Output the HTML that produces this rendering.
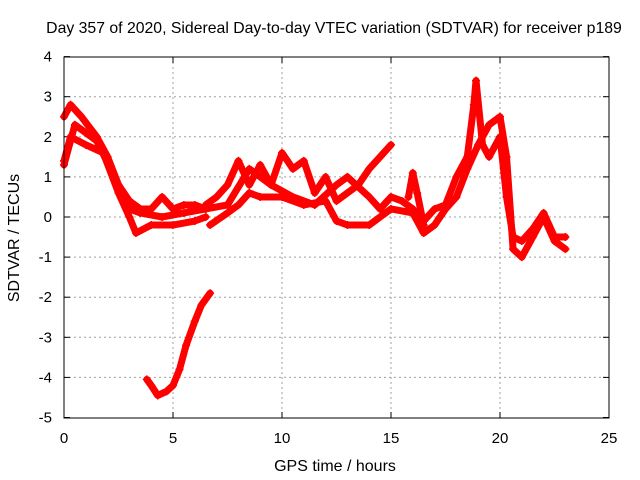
<!DOCTYPE html>
<html><head><meta charset="utf-8"><style>
body{margin:0;background:#fff}
svg{display:block;font-family:"Liberation Sans",sans-serif}
</style></head><body>
<svg id="chart" width="640" height="480">
<text x="334" y="33" font-size="15.8" text-anchor="middle">Day 357 of 2020, Sidereal Day-to-day VTEC variation (SDTVAR) for receiver p189</text>
<text x="335" y="471" font-size="16" text-anchor="middle">GPS time / hours</text>
<text transform="translate(19,238) rotate(-90)" font-size="16" text-anchor="middle">SDTVAR / TECUs</text>
<g id="grid"></g><g id="ticks"></g><g id="marks"></g>
<rect x="64" y="57" width="545" height="361" fill="none" stroke="#000"/>
</svg>
<script>
const xTicks=[0,5,10,15,20,25];
const yTicks=[-5,-4,-3,-2,-1,0,1,2,3,4];
const s1x=[0,0.3,0.8,1.5,2,2.5,3,3.5,4,4.5,5,5.5,6,6.5];
const s1y=[2.5,2.8,2.5,2.0,1.5,0.8,0.4,0.2,0.2,0.5,0.2,0.3,0.3,0.2];
const s2x=[0,0.3,1,1.8,2.5,3,3.3,4,5,6,6.5];
const s2y=[1.4,2.0,1.8,1.6,0.6,0.0,-0.4,-0.2,-0.2,-0.1,0.0];
const s3x=[0,0.5,1.5,2.5,3,3.5,4.5,5.5,6.5];
const s3y=[1.3,2.3,1.9,0.8,0.2,0.1,0.0,0.1,0.2];
const s4x=[6.7,7.5,8,8.5,9,10,11,12,12.5,13,14,15,16,16.5,17,17.5,18,18.5,19,19.5,20,20.3,20.6,21,21.5,22,22.5,23];
const s4y=[-0.2,0.1,0.3,0.6,0.5,0.5,0.3,0.4,-0.1,-0.2,-0.2,0.2,0.1,-0.4,-0.2,0.2,0.5,1.2,1.8,2.3,2.5,1.5,-0.8,-1.0,-0.5,0.0,-0.6,-0.8];
const s5x=[6.5,7,7.5,8,8.5,9,9.5,10,10.5,11,11.5,12,12.5,13,13.5,14,14.5,15];
const s5y=[0.3,0.5,0.8,1.4,0.8,1.3,0.8,1.6,1.2,1.4,0.6,1.0,0.4,0.6,0.8,1.2,1.5,1.8];
const s6x=[6.5,7.5,8.5,9.5,10.5,11.5,12.5,13,14,14.5,15,15.5,16,16.5,17,17.5,18,18.5,18.8,18.9,19.2,19.5,20,20.3,20.6,21,21.5,22,22.5,23];
const s6y=[0.2,0.3,1.2,0.8,0.5,0.3,0.8,1.0,0.5,0.2,0.5,0.4,0.2,-0.1,0.2,0.3,1.0,1.5,2.8,3.4,1.8,1.5,2.0,0.5,-0.5,-0.6,-0.3,0.1,-0.5,-0.5];
const s7x=[15.8,16,16.2,16.5];
const s7y=[0.5,1.1,0.6,-0.2];
const s8x=[3.8,4.0,4.3,4.7,5,5.3,5.6,6,6.3,6.7];
const s8y=[-4.05,-4.2,-4.45,-4.35,-4.2,-3.8,-3.2,-2.6,-2.2,-1.9];
const series=[[s1x,s1y],[s2x,s2y],[s3x,s3y],[s4x,s4y],[s5x,s5y],[s6x,s6y],[s7x,s7y],[s8x,s8y]];
const X=v=>64+v*21.8, Y=v=>217-v*40.1;
const NS="http://www.w3.org/2000/svg";
const grid=document.getElementById('grid'),ticks=document.getElementById('ticks'),marks=document.getElementById('marks');
function mk(t,a,p){const e=document.createElementNS(NS,t);for(const k in a)e.setAttribute(k,a[k]);p.appendChild(e);return e;}
xTicks.forEach(v=>{
 if(v>0&&v<25){const g=mk('line',{x1:X(v),x2:X(v),y1:57,y2:418,stroke:'#a0a0a0','stroke-dasharray':'2,3'},grid);
 
 }
 mk('line',{x1:X(v),x2:X(v),y1:418,y2:412,stroke:'#000'},ticks);
 mk('line',{x1:X(v),x2:X(v),y1:57,y2:63,stroke:'#000'},ticks);
 const t=mk('text',{x:X(v),y:443,'font-size':15,'text-anchor':'middle'},ticks);t.textContent=v;
 
 
});
yTicks.forEach(v=>{
 if(v>-5&&v<4){const g=mk('line',{x1:64,x2:609,y1:Y(v),y2:Y(v),stroke:'#a0a0a0','stroke-dasharray':'2,3'},grid);
 
 }
 mk('line',{x1:64,x2:70,y1:Y(v),y2:Y(v),stroke:'#000'},ticks);
 mk('line',{x1:609,x2:603,y1:Y(v),y2:Y(v),stroke:'#000'},ticks);
 const t=mk('text',{x:52,y:Y(v)+5,'font-size':15,'text-anchor':'end'},ticks);t.textContent=v;
 
 
});
series.forEach((s,i)=>{
 const pts=s[0].map((x,j)=>X(x)+','+Y(s[1][j])).join(' ');
 const pl=mk('polyline',{points:pts,fill:'none',stroke:'#f00','stroke-width':7,'stroke-linejoin':'round','stroke-linecap':'round'},marks);
 
 
 s[0].forEach((x,j)=>{
  const cx=X(x),cy=Y(s[1][j]);
  const p=mk('path',{d:`M${cx-4},${cy}H${cx+4}M${cx},${cy-4}V${cy+4}`,stroke:'#f00','stroke-width':1.5},marks);
  
  
 });
});
</script>
</body></html>
